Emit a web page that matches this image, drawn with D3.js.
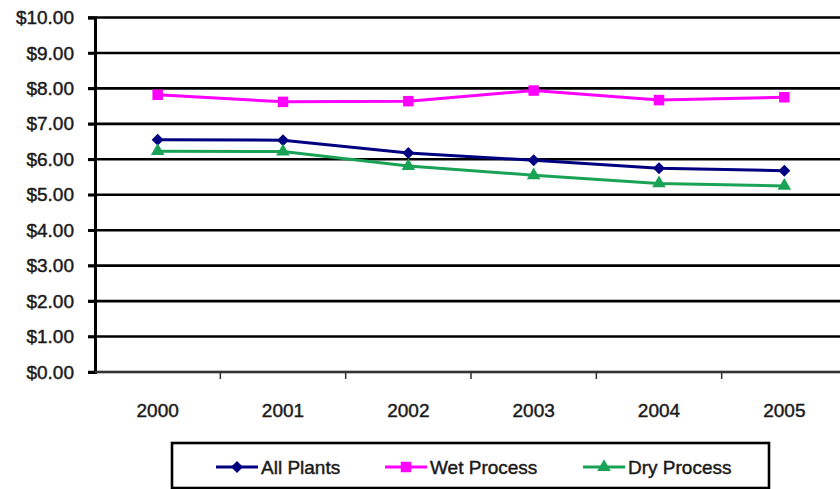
<!DOCTYPE html>
<html>
<head>
<meta charset="utf-8">
<script src="https://cdn.jsdelivr.net/npm/d3@7"></script>
<style>
  html, body { margin: 0; padding: 0; background: #fff; }
  svg { display: block; }
  text { font-family: "Liberation Sans", Arial, sans-serif; fill: #1a1a1a; stroke: #1a1a1a; stroke-width: 0.45px; }
</style>
</head>
<body>
<svg id="chart" width="840" height="489"></svg>
<script>
// Cost per plant type, by year
const years = ["2000", "2001", "2002", "2003", "2004", "2005"];
const allPlants = [6.55, 6.54, 6.18, 5.97, 5.75, 5.68];
const wetProcess = [7.82, 7.62, 7.64, 7.94, 7.67, 7.75];
const dryProcess = [6.23, 6.22, 5.81, 5.55, 5.32, 5.25];
const yTicks = [0, 1, 2, 3, 4, 5, 6, 7, 8, 9, 10];
const seriesNames = ["All Plants", "Wet Process", "Dry Process"];
const seriesColors = ["#000080", "#ff00ff", "#1aa357"];

const series = [
  { name: seriesNames[0], values: allPlants, color: seriesColors[0], shape: "diamond" },
  { name: seriesNames[1], values: wetProcess, color: seriesColors[1], shape: "square" },
  { name: seriesNames[2], values: dryProcess, color: seriesColors[2], shape: "triangle" }
];

const svg = d3.select("#chart");
const plot = { left: 95, right: 847, top: 17.5, bottom: 372 };

const x = d3.scaleBand().domain(years).range([plot.left, plot.right]).padding(0);
const cx = d => x(d) + x.bandwidth() / 2;
const y = d3.scaleLinear().domain([0, 10]).range([plot.bottom, plot.top]);

// horizontal gridlines (extend a little past the axis like tick marks)
svg.append("g").selectAll("line").data(yTicks).join("line")
  .attr("x1", plot.left - 7).attr("x2", plot.right)
  .attr("y1", d => y(d)).attr("y2", d => y(d))
  .attr("stroke", "#000").attr("stroke-width", 2.6);

// y axis with currency labels
const yAxis = d3.axisLeft(y).tickValues(yTicks).tickFormat(d3.format("$.2f"))
  .tickSize(7).tickPadding(14);
const yg = svg.append("g").attr("transform", `translate(${plot.left},0)`).call(yAxis);
yg.select(".domain").attr("stroke", "#000").attr("stroke-width", 3);
yg.selectAll(".tick line").attr("stroke", "#000").attr("stroke-width", 2.6);
yg.selectAll(".tick text").attr("font-size", 19).attr("fill", "#1a1a1a")
  .attr("font-family", "'Liberation Sans', Arial, sans-serif");

// x axis: ticks between categories
const xg = svg.append("g").attr("transform", `translate(0,${plot.bottom})`);
xg.append("line").attr("x1", plot.left).attr("x2", plot.right)
  .attr("stroke", "#333").attr("stroke-width", 2);
const boundaries = years.slice(1).map(d => x(d));
xg.selectAll("line.tk").data(boundaries).join("line").attr("class", "tk")
  .attr("x1", d => d).attr("x2", d => d).attr("y1", 0).attr("y2", 7)
  .attr("stroke", "#333").attr("stroke-width", 1.5);
xg.selectAll("text").data(years).join("text")
  .attr("x", d => cx(d)).attr("y", 38).attr("dy", "0.35em")
  .attr("text-anchor", "middle").attr("font-size", 19).text(d => d);

// marker factory
function marker(sel, shape, color) {
  if (shape === "diamond") {
    sel.append("path").attr("d", d3.symbol(d3.symbolSquare, 72)())
      .attr("transform", "rotate(45)").attr("fill", color);
  } else if (shape === "square") {
    sel.append("path").attr("d", d3.symbol(d3.symbolSquare, 110)()).attr("fill", color);
  } else {
    sel.append("path").attr("d", d3.symbol(d3.symbolTriangle, 80)()).attr("fill", color);
  }
}

// series lines and markers
const line = d3.line().x((v, i) => cx(years[i])).y(v => y(v));
series.forEach(s => {
  const g = svg.append("g");
  g.append("path").datum(s.values).attr("d", line)
    .attr("fill", "none").attr("stroke", s.color).attr("stroke-width", 3);
  s.values.forEach((v, i) => {
    const m = g.append("g").attr("transform", `translate(${cx(years[i])},${y(v)})`);
    marker(m, s.shape, s.color);
  });
});

// legend
const legend = svg.append("g");
legend.append("rect").attr("x", 172).attr("y", 443).attr("width", 597).attr("height", 45)
  .attr("fill", "#fff").attr("stroke", "#000").attr("stroke-width", 2.6);
const legendX = [216, 385, 583];
series.forEach((s, i) => {
  const g = legend.append("g").attr("transform", `translate(${legendX[i]},467)`);
  g.append("line").attr("x1", 0).attr("x2", 42).attr("stroke", s.color).attr("stroke-width", 3);
  const m = g.append("g").attr("transform", "translate(21,0)");
  marker(m, s.shape, s.color);
  g.append("text").attr("x", 45).attr("dy", "0.35em").attr("font-size", 19).text(s.name);
});
</script>
</body>
</html>
